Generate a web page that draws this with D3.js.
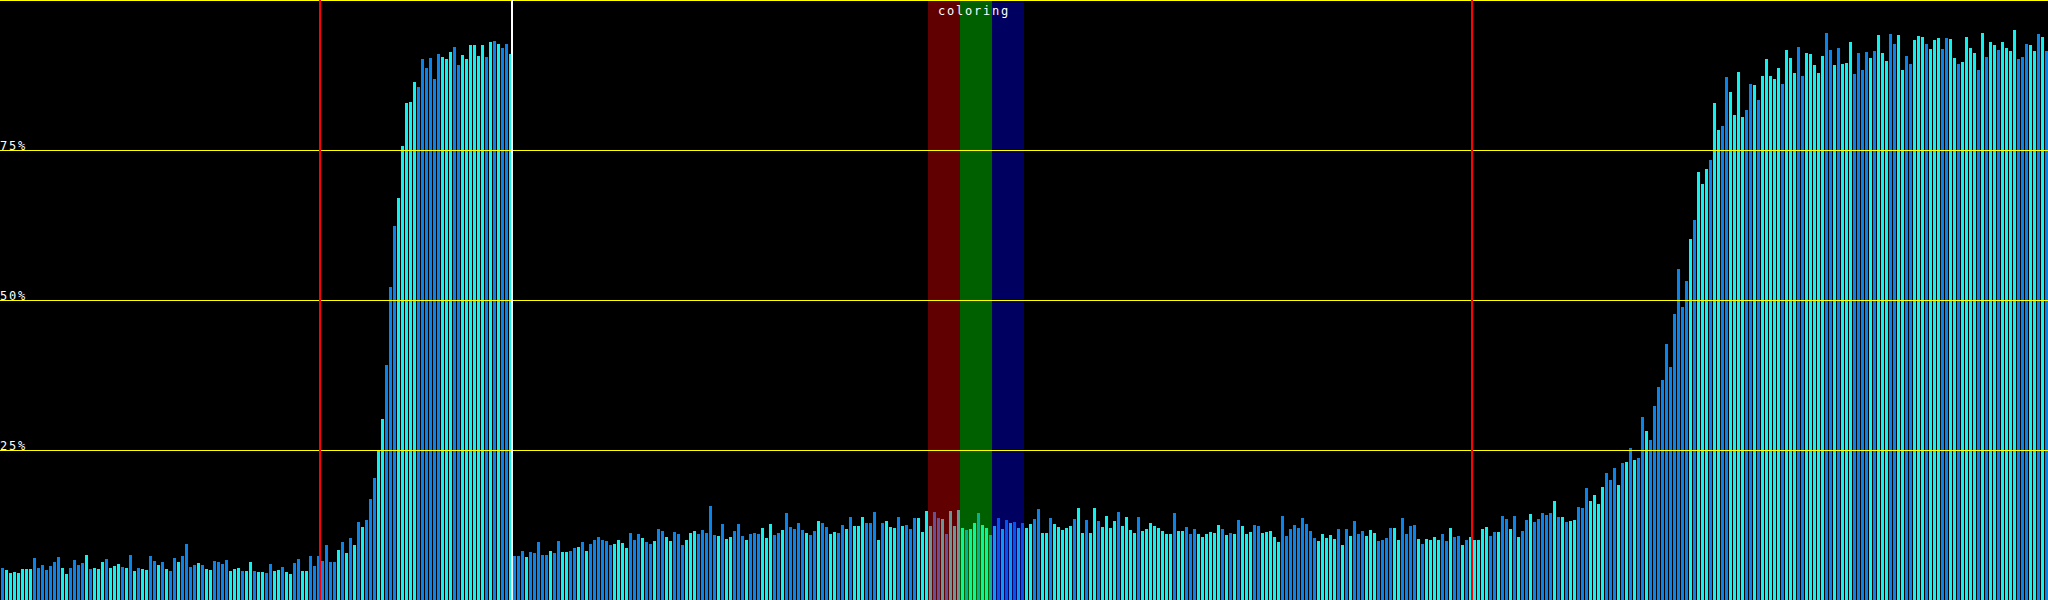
<!DOCTYPE html>
<html><head><meta charset="utf-8">
<script src="https://cdn.jsdelivr.net/npm/d3@7"></script>
<style>html,body{margin:0;padding:0;background:#000;overflow:hidden}</style>
</head><body><svg id="chart" width="2048" height="600"></svg>
<script>
// ---- data (percent per bar) ----
const valuesA = [5.33,5.0,4.5,4.67,4.5,5.17,5.17,5.17,7.0,5.33,
  5.83,5.0,5.67,6.33,7.17,5.33,4.33,5.33,6.67,5.83,
  6.17,7.5,5.17,5.33,5.17,6.33,6.83,5.33,5.67,6.0,
  5.5,5.33,7.5,4.83,5.33,5.17,5.0,7.33,6.5,5.83,
  6.33,5.17,4.83,7.0,6.33,7.33,9.33,5.5,5.83,6.17,
  5.83,5.17,5.0,6.5,6.33,6.0,6.67,4.83,5.17,5.33,
  4.83,4.83,6.33,4.83,4.67,4.67,4.5,6.0,4.83,5.0,
  5.5,4.67,4.33,6.17,6.83,4.83,4.83,7.33,5.67,7.33];
const valuesB = [6.5,9.17,6.33,6.33,8.33,9.67,7.83,10.33,9.17,13.0,
  12.17,13.33,16.83,20.33,25.0,30.17,39.17,52.17,62.33,67.0,
  75.67,82.83,83.0,86.33,85.5,90.17,88.67,90.33,86.83,91.0,
  90.5,90.17,91.33,92.17,89.17,90.83,90.17,92.5,92.5,90.67,
  92.5,90.5,93.0,93.17,92.67,92.0,92.67,91.0];
const valuesC = [7.33,7.33,8.17,7.17,8.0,7.83,9.67,7.5,7.5,8.17,
  7.83,9.83,8.0,8.0,8.17,8.67,8.83,9.67,8.17,9.33,
  10.0,10.5,10.0,9.83,9.17,9.33,10.0,9.5,8.67,11.17,
  10.0,11.0,10.33,9.67,9.33,9.83,11.83,11.5,10.5,9.83,
  11.33,11.0,9.17,10.0,11.17,11.5,11.0,11.67,11.17,15.67,
  10.83,10.67,12.67,10.17,10.5,11.5,12.67,10.67,10.0,11.0,
  11.17,11.0,12.0,10.33,12.67,10.83,11.17,11.67,14.5,12.17,
  11.83,12.83,11.67,11.17,10.83,11.5,13.17,12.83,12.17,11.0,
  11.33,11.17,12.5,11.83,13.83,12.33,12.33,13.83,12.83,12.83,
  14.67,10.0,12.83,13.17,12.17,12.0,13.83,12.33,12.5,11.83,
  13.67,13.67,11.33,14.83,12.33,14.67,13.67,13.5,11.0,14.83,
  12.33,15.0,12.0,11.67,11.83,12.83,14.5,12.5,12.0,10.83,
  12.33,13.67,11.83,13.33,12.83,13.0,12.0,12.83,12.0,12.67,
  13.5,15.17,11.17,11.17,13.67,12.67,12.17,11.67,12.0,12.33,
  13.5,15.33,11.17,13.33,11.17,15.33,13.17,12.17,14.0,12.0,
  13.17,14.67,12.33,13.83,11.67,11.17,13.83,11.5,11.83,12.83,
  12.33,12.0,11.5,11.0,11.0,14.5,11.5,11.5,12.17,11.0,
  11.83,11.0,10.5,11.0,11.33,11.17,12.5,11.83,10.83,11.17,
  11.0,13.33,12.33,11.0,11.33,12.5,12.33,11.17,11.33,11.5,
  10.5,9.67,14.0,10.67,11.83,12.5,12.0,13.67,12.67,11.5,
  10.33,9.83,11.0,10.33,10.83,10.17,11.83,9.17,11.83,10.67,
  13.17,11.0,11.5,10.67,11.67,11.17,9.83,10.0,10.33,12.0,
  12.0,10.0,13.67,11.0,12.33,12.5,10.17,9.33,10.17,10.0,
  10.5,10.0,11.0,9.83,12.0,10.5,10.67,9.17,10.0,10.5];
const valuesD = [10.0,10.0,11.83,12.17,10.67,11.33,11.33,14.0,13.5,11.83,
  14.0,10.5,11.5,13.33,14.33,13.0,13.5,14.5,14.17,14.5,
  16.5,13.83,13.83,13.0,13.17,13.33,15.5,15.33,18.67,16.5,
  17.5,16.0,18.83,21.17,20.0,22.0,19.17,22.83,23.0,25.33,
  23.33,23.67,30.5,28.17,26.67,32.33,35.5,36.67,42.67,38.83,
  47.67,55.17,48.83,53.17,60.17,63.33,71.33,69.33,71.83,73.33,
  82.83,78.33,79.0,87.17,84.67,80.83,88.0,80.5,81.67,86.0,
  85.83,83.33,87.33,90.17,87.33,86.83,88.67,86.0,91.67,90.33,
  87.83,92.17,87.33,91.17,91.0,89.17,87.83,90.67,94.5,91.67,
  89.17,92.0,89.33,89.5,93.0,87.67,91.17,88.33,91.33,90.33,
  91.5,94.17,91.17,89.83,94.33,92.67,94.17,88.33,90.67,89.33,
  93.33,94.0,93.83,92.67,91.83,93.33,93.67,91.83,93.67,93.5,
  90.33,89.33,89.67,93.83,92.0,91.17,88.33,94.5,90.5,93.0,
  92.5,91.67,93.0,92.0,91.5,95.0,90.17,90.5,92.67,92.5,
  91.5,94.33,93.83,91.5];

// colour kind per bar: B = blue, C = cyan
const kindsA = ["BCCCCCCCBB","BBBBBCCBBB","BCBCCCBCCC","BCBCBCCBBC","BCBBCBBBBC","BCCBBBBCCC","BCCBCCBBCC","BCCBBCCBBB"];
const kindsB = ["BBBBCBCBCB","CBBBCCBBBC","CCCCBBBBBB","CCCBBCCCCC","CBCBCBBC"];
const kindsC = ["BBBCBBBBBC","BBCCBBCBCB","BBBBBCCCCB","BBCBBCBBCC","BBBCCCBBBB","BCBCCBBBCB",
  "BBCCCBBCBB","BBBCBBCBBC","CBBCBCCCBB","BCBCCCBCBB","BCCCCBBCBC","CCCBCCBCCB",
  "CBCBCBCBCC","BBCCBCCCCC","BCCBCCBCCC","CBCCCCBCCC","CCCCCBCCBB","BCCCCCCBCB",
  "CBCCCBBCCC","CCBBBBBBBB","BCCCCCBCBC","BBBCCCBBBB","CCBBBBCBCC","CCBBCBBCBC"];
const kindsD = ["CCCCBBCBBC","BCBBCBBBBB","CBCBCCBBBC","CCCBBBCBCB","CBBCBBBBBB","BBBBCBCCCB",
  "CCBBCCCCBB","CBCCCCCBCC","CBBCCCCCBB","CBCCCBBBBC","BCCCBBCCBB","CCCBCCCBBC",
  "CBCCCCBCBC","CBCCCCBBBC","CBCB"];

const yTicks = [25, 50, 75, 100];
const yTickLabels = ["25%", "50%", "75%", ""];
const markerBars = [80, 128, 368];          // vertical lines placed before these bars
const markerColors = ["#ff0000", "#ffffff", "#ff0000"];
const bandFrom = [232, 240, 248];
const bandTo = [239, 247, 255];
const bandColors = ["#ff0000", "#00ff00", "#0000ff"];
const bandTitle = "coloring";

// ---- build ----
const values = [].concat(valuesA, valuesB, valuesC, valuesD);
const kinds = (kindsA.join("") + kindsB.join("") + kindsC.join("") + kindsD.join("")).split("");
const colorOf = {B: "#0a84ea", C: "#10f2f0"};

const W = 2048, H = 600;
const svg = d3.select("#chart");
svg.append("rect").attr("width", W).attr("height", H).attr("fill", "#000");

const x = d3.scaleBand().domain(d3.range(values.length)).range([0, W])
  .paddingInner(0.25).paddingOuter(0.125).align(1);
const y = d3.scaleLinear().domain([0, 100]).range([H, 0]);
const gap = x.step() - x.bandwidth();

svg.append("g").attr("shape-rendering", "crispEdges")
  .selectAll("rect").data(values).join("rect")
  .attr("x", (d, i) => x(i))
  .attr("y", d => y(d))
  .attr("width", x.bandwidth())
  .attr("height", d => y(0) - y(d))
  .attr("fill", (d, i) => colorOf[kinds[i]] || colorOf.B);

// coloured bands over bars
svg.append("g").attr("shape-rendering", "crispEdges")
  .selectAll("rect").data(d3.range(bandFrom.length)).join("rect")
  .attr("x", k => x(bandFrom[k]) - gap)
  .attr("width", k => x(bandTo[k]) + x.bandwidth() - (x(bandFrom[k]) - gap))
  .attr("y", 0).attr("height", H)
  .attr("fill", k => bandColors[k]).attr("fill-opacity", 0.376);

// horizontal grid lines
svg.append("g").attr("shape-rendering", "crispEdges")
  .selectAll("line").data(yTicks).join("line")
  .attr("x1", 0).attr("x2", W)
  .attr("y1", d => Math.round(y(d)) + 0.5).attr("y2", d => Math.round(y(d)) + 0.5)
  .attr("stroke", "#ffff00").attr("stroke-width", 1);

// vertical markers
svg.append("g").attr("shape-rendering", "crispEdges")
  .selectAll("rect").data(markerBars).join("rect")
  .attr("x", (b, i) => x(b) - gap - 1)
  .attr("width", 2).attr("y", 0).attr("height", H)
  .attr("fill", (b, i) => markerColors[i]);

// tick labels
svg.append("g").selectAll("text").data(yTicks).join("text")
  .attr("x", 0).attr("y", d => y(d))
  .attr("fill", "#fff")
  .attr("font-family", "DejaVu Sans Mono, monospace")
  .attr("font-size", 12).attr("letter-spacing", "1.78px")
  .text((d, i) => yTickLabels[i]);

// band title
const bandMid = (x(bandFrom[0]) - gap + x(bandTo[bandTo.length - 1]) + x.bandwidth()) / 2;
svg.append("text")
  .attr("x", bandMid - 2).attr("y", 15)
  .attr("text-anchor", "middle")
  .attr("fill", "#fff")
  .attr("font-family", "DejaVu Sans Mono, monospace")
  .attr("font-size", 12).attr("letter-spacing", "1.78px")
  .text(bandTitle);
</script>
</body></html>
